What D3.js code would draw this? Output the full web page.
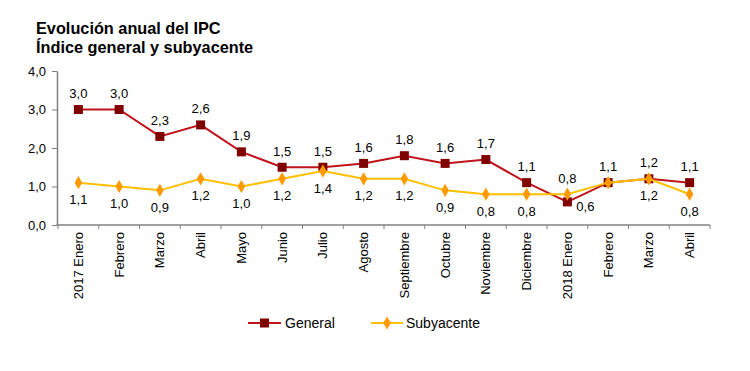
<!DOCTYPE html>
<html><head><meta charset="utf-8">
<script src="https://cdn.jsdelivr.net/npm/d3@7"></script>
<style>
body{margin:0;background:#fff;}
text{font-family:"Liberation Sans",Arial,sans-serif;fill:#000;}
</style></head>
<body>
<svg id="c" width="750" height="371"></svg>
<script>
const categories = ["2017 Enero","Febrero","Marzo","Abril","Mayo","Junio","Julio","Agosto","Septiembre","Octubre","Noviembre","Diciembre","2018 Enero","Febrero","Marzo","Abril"];
const general = [3.0,3.0,2.3,2.6,1.9,1.5,1.5,1.6,1.8,1.6,1.7,1.1,0.6,1.1,1.2,1.1];
const subyacente = [1.1,1.0,0.9,1.2,1.0,1.2,1.4,1.2,1.2,0.9,0.8,0.8,0.8,1.1,1.2,0.8];
const yTicks = [0,1,2,3,4];
const titleLines = ["Evolución anual del IPC","Índice general y subyacente"];
// label placement: "a" above, "b" below, "r" right, "n" none
const generalPos = ["a","a","a","a","a","a","a","a","a","a","a","a","r","a","a","a"];
const subPos = ["b","b","b","b","b","b","b","b","b","b","b","b","a","n","b","b"];

const svg = d3.select("#c");
const m = {l:58};
const x = d3.scaleBand().domain(d3.range(categories.length)).range([m.l, 710]);
const y = d3.scaleLinear().domain([0,4]).range([225, 71]);
const fmt = v => d3.format(".1f")(v).replace(".", ",");

svg.selectAll(".t").data(titleLines).enter().append("text")
  .attr("x", 36).attr("y", (d,i)=>34+i*19)
  .style("font-size","16.3px").style("font-weight","bold").text(d=>d);

// y axis
const ya = svg.append("g").attr("transform",`translate(${m.l-1},0)`)
  .call(d3.axisLeft(y).tickValues(yTicks).tickSize(5).tickSizeOuter(0).tickFormat(fmt));
ya.select(".domain").attr("stroke","#808080").attr("stroke-width",1.5);
ya.selectAll(".tick line").attr("stroke","#808080");
ya.selectAll(".tick text").style("font-size","13px").attr("x",-11);

// x axis
const xa = svg.append("g").attr("transform",`translate(0,${y(0)})`);
xa.append("line").attr("x1",m.l-1.5).attr("x2",710).attr("stroke","#808080").attr("stroke-width",1.5);
const edges = d3.range(categories.length+1).map(i => i<categories.length ? x(i) : x(i-1)+x.bandwidth());
xa.selectAll(".tk").data(edges).enter().append("line")
  .attr("x1",d=>d).attr("x2",d=>d).attr("y1",0).attr("y2",4).attr("stroke","#808080");
xa.selectAll(".xl").data(categories).enter().append("text")
  .attr("transform",(d,i)=>`translate(${x(i)+x.bandwidth()/2},7) rotate(-90)`)
  .attr("text-anchor","end").attr("dy","0.35em").style("font-size","13px").text(d=>d);

const cx = i => x(i)+x.bandwidth()/2;
const line = d3.line().x((d,i)=>cx(i)).y(d=>y(d));

// General
svg.append("path").datum(general).attr("d",line).attr("fill","none").attr("stroke","#C0141C").attr("stroke-width",2);
svg.selectAll(".gm").data(general).enter().append("rect")
  .attr("x",(d,i)=>cx(i)-4.5).attr("y",d=>y(d)-4.5).attr("width",9).attr("height",9).attr("fill","#800000");

// Subyacente
svg.append("path").datum(subyacente).attr("d",line).attr("fill","none").attr("stroke","#FFC000").attr("stroke-width",2);
const diamond = d3.symbol().type(d3.symbolDiamond).size(50);
svg.selectAll(".sm").data(subyacente).enter().append("path")
  .attr("d",diamond).attr("transform",(d,i)=>`translate(${cx(i)},${y(d)})`).attr("fill","#FF9900");

function addLabels(data,pos){
  const items = data.map((v,i)=>({v,i,p:pos[i]})).filter(o=>o.p!=="n");
  svg.selectAll(null).data(items).enter().append("text")
    .attr("x",o=>o.p==="r"? cx(o.i)+18 : cx(o.i))
    .attr("y",o=>o.p==="a"? y(o.v)-16 : o.p==="b"? y(o.v)+17 : y(o.v)+5)
    .attr("dy","0.35em").attr("text-anchor","middle").style("font-size","13px").text(o=>fmt(o.v));
}
addLabels(general,generalPos);
addLabels(subyacente,subPos);

// legend
const lg = svg.append("g").attr("transform","translate(0,323)");
lg.append("line").attr("x1",248).attr("x2",281).attr("stroke","#C0141C").attr("stroke-width",2);
lg.append("rect").attr("x",260).attr("y",-4.5).attr("width",9).attr("height",9).attr("fill","#800000");
lg.append("text").attr("x",285).attr("dy","0.35em").style("font-size","14px").text("General");
lg.append("line").attr("x1",371).attr("x2",403).attr("stroke","#FFC000").attr("stroke-width",2);
lg.append("path").attr("d",diamond).attr("transform","translate(387,0)").attr("fill","#FF9900");
lg.append("text").attr("x",406).attr("dy","0.35em").style("font-size","14px").text("Subyacente");
</script>
</body></html>
